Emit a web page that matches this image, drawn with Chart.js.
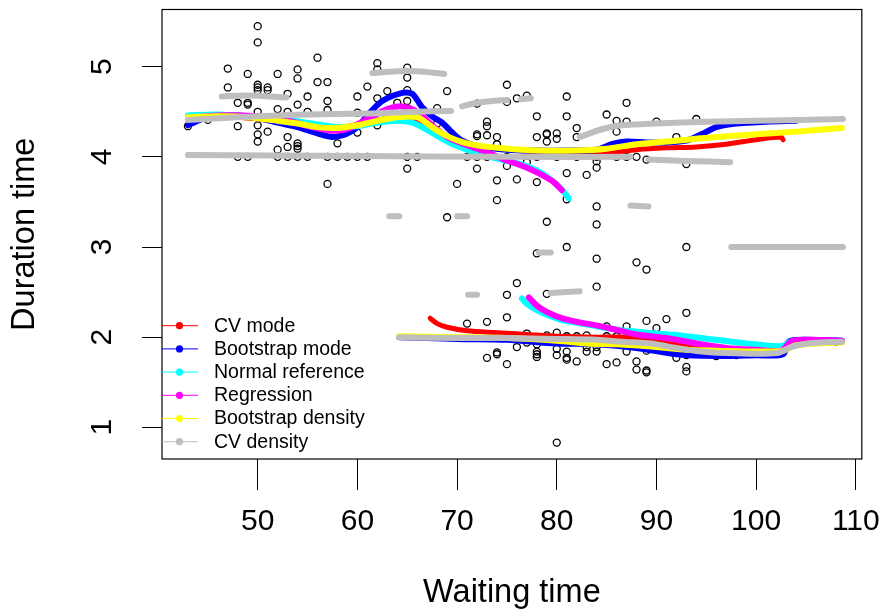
<!DOCTYPE html>
<html>
<head>
<meta charset="utf-8">
<script src="https://cdn.jsdelivr.net/npm/chart.js@4/dist/chart.umd.min.js"></script>
<style>
  html, body { margin: 0; padding: 0; background: #fff; }
  #wrap { width: 894px; height: 615px; position: relative; }
</style>
</head>
<body>
<div id="wrap"><canvas id="geyser"></canvas></div>
<script>
// === data ===
const tickX = [50, 60, 70, 80, 90, 100, 110];
const tickY = [1, 2, 3, 4, 5];

const waiting = [
  43, 45, 47, 47, 48, 48, 48, 49, 49, 49, 49,
  50, 50, 50, 50, 50, 50, 50, 50, 50, 51, 51, 51,
  52, 52, 52, 52, 53, 53, 53, 53, 53,
  54, 54, 54, 54, 54, 54, 54, 55, 55, 55, 56, 56,
  57, 57, 57, 57, 57, 58, 58, 59, 60, 60, 60, 60, 61, 61,
  62, 62, 62, 62, 63, 64, 65, 65, 65, 65, 65, 65, 66,
  68, 68, 69, 69, 70, 71, 72, 72, 72, 72, 72,
  73, 73, 73, 73, 74, 74, 74, 74, 75, 75, 75, 75, 76, 76, 77, 77,
  78, 78, 78, 78, 79, 79, 79, 79, 80, 80, 80, 81, 81, 81, 81,
  82, 82, 82, 83, 84, 84, 84, 84, 84, 85, 86, 86, 86, 87, 87, 87,
  88, 89, 90, 92, 93, 94,
  71, 73, 73, 74, 74, 75, 75, 75, 76, 76, 76, 77, 77,
  78, 78, 78, 78, 78, 78, 79, 79, 80, 80, 80, 80,
  81, 81, 81, 81, 81, 82, 82, 83, 83, 83, 84, 84, 84, 84,
  85, 85, 85, 86, 86, 87, 87, 88, 88, 88, 88, 89, 89, 89, 89, 89,
  90, 90, 91, 92, 93, 93, 93, 93, 93, 96, 98, 108
];
const duration = [
  4.34, 4.41, 4.98, 4.77, 4.60, 4.34, 4.00, 4.92, 4.60, 4.58, 4.00,
  5.45, 5.27, 4.80, 4.77, 4.74, 4.50, 4.35, 4.25, 4.17, 4.77, 4.74, 4.28,
  4.92, 4.53, 4.08, 4.00, 4.70, 4.50, 4.22, 4.11, 4.00,
  4.97, 4.87, 4.58, 4.15, 4.12, 4.09, 4.00, 4.67, 4.50, 4.00, 5.10, 4.83,
  4.83, 4.62, 4.52, 4.00, 3.70, 4.15, 4.00, 4.00, 4.67, 4.49, 4.27, 4.00, 4.78, 4.00,
  5.04, 4.97, 4.65, 4.35, 4.73, 4.60, 4.99, 4.88, 4.74, 4.62, 4.00, 3.87, 4.00,
  4.54, 4.37, 4.73, 3.33, 3.70, 4.00, 4.59, 4.25, 4.23, 4.00, 3.87,
  4.39, 4.34, 4.24, 4.00, 4.22, 4.14, 3.74, 3.52, 4.80, 4.61, 4.00, 3.90, 4.65, 3.75, 4.68, 3.94,
  4.45, 4.22, 4.00, 3.72, 4.26, 4.25, 4.17, 3.28, 4.26, 4.20, 4.00, 4.67, 4.45, 3.82, 3.53,
  4.32, 4.22, 4.00, 3.80, 4.00, 3.95, 3.88, 3.45, 3.25, 4.47, 4.40, 4.28, 4.00, 4.60, 4.39, 4.00,
  4.00, 3.97, 4.39, 4.22, 3.92, 4.42,
  2.15, 2.17, 1.77, 1.83, 1.81, 2.47, 2.22, 1.70, 2.60, 2.00, 1.89, 2.04, 1.94,
  2.93, 2.00, 1.92, 1.84, 1.81, 1.78, 2.48, 2.02, 2.05, 1.87, 1.80, 0.83,
  3.00, 2.01, 1.84, 1.77, 1.75, 2.01, 1.73, 2.02, 1.89, 1.84, 2.87, 2.56, 1.89, 1.84,
  2.12, 2.01, 1.70, 2.01, 1.72, 2.12, 1.84, 2.83, 1.90, 1.73, 1.64, 2.75, 2.18, 1.85, 1.63, 1.61,
  2.10, 1.95, 2.20, 1.77, 3.00, 2.27, 1.80, 1.67, 1.62, 1.79, 1.80, 1.95
];

// conditional mode curves, [waiting, duration] pairs, one array per piece
const cvModeUpper = [[43,4.42],[45,4.46],[48,4.44],[50,4.42],[53,4.37],[55,4.34],[57,4.32],[58,4.32],[60,4.36],[62,4.41],[64,4.44],[65.5,4.44],[67,4.36],[68.5,4.25],[70,4.18],[72,4.12],[75,4.08],[78,4.06],[82,4.05],[85,4.04],[88,4.08],[91,4.10],[94,4.11],[97,4.14],[100,4.19],[102.5,4.22],[102.7,4.19]];
const cvModeLower = [[67.3,2.21],[68,2.15],[69,2.11],[71,2.07],[74,2.05],[77,2.03],[80,2.01],[84,2.00],[87,2.00],[90,1.95],[93,1.90],[96,1.87],[100,1.85],[103,1.88],[105,1.93],[108.6,1.95]];

const bootModeUpper = [[43,4.35],[44,4.40],[45.5,4.46],[48,4.46],[50,4.43],[52,4.38],[54,4.33],[56,4.26],[57.5,4.22],[59,4.26],[60,4.33],[61,4.46],[62.5,4.62],[64.5,4.71],[65.5,4.70],[66,4.63],[66.5,4.55],[67.5,4.45],[68.5,4.38],[69.5,4.27],[70.5,4.18],[72,4.12],[75,4.08],[78,4.07],[81,4.07],[84,4.08],[85.5,4.14],[87,4.17],[89,4.16],[91,4.16],[93,4.18],[94.5,4.25],[96,4.33],[98,4.37],[101,4.39],[104,4.40]];
const bootModeLower = [[64.2,2.00],[70,1.98],[75,1.97],[80,1.93],[84,1.92],[88,1.88],[92,1.81],[96,1.79],[100,1.80],[102.7,1.81],[103.3,1.95],[105,1.97],[108.6,1.96]];

const normRefUpper = [[43,4.46],[46,4.47],[50,4.44],[53,4.41],[56,4.36],[58,4.33],[60,4.34],[62,4.38],[64,4.40],[65.5,4.38],[67,4.30],[68.5,4.20],[70,4.12],[72,4.04],[74,3.98],[76,3.93],[78,3.85],[79.5,3.74],[80.5,3.64],[81.2,3.54]];
const normRefLower = [[76.5,2.43],[77,2.37],[78,2.30],[79,2.25],[80.5,2.19],[82,2.16],[83.5,2.13],[85,2.10],[87,2.07],[90,2.04],[93,2.01],[96,1.97],[99,1.93],[102.5,1.90],[103.5,1.95],[105,1.96],[108.6,1.96]];

const regrUpper = [[43,4.43],[46,4.46],[50,4.45],[53,4.40],[55.5,4.33],[57.5,4.29],[59,4.31],[61,4.42],[63,4.53],[64.5,4.56],[66,4.50],[67.5,4.35],[69,4.22],[71,4.13],[73,4.05],[75,3.96],[77,3.88],[78.5,3.80],[79.7,3.72],[80.5,3.63]];
const regrLower = [[77.2,2.44],[78,2.35],[79,2.28],[80.5,2.21],[82,2.17],[84,2.13],[86,2.08],[88,2.03],[91,1.99],[94,1.93],[97,1.88],[100,1.86],[102.5,1.85],[103.5,1.95],[105,1.97],[108.6,1.96]];

const bootDensUpper = [[43,4.44],[46,4.45],[49,4.44],[52,4.40],[54,4.37],[56,4.33],[58,4.32],[60,4.35],[62,4.40],[64,4.44],[66,4.44],[67.5,4.33],[69,4.23],[71,4.15],[74,4.10],[78,4.07],[82,4.07],[85,4.09],[88,4.14],[92,4.18],[96,4.22],[100,4.25],[104,4.28],[108.6,4.32]];
const bootDensLower = [[64.2,2.01],[70,2.00],[75,1.99],[80,1.96],[83,1.93],[86,1.92],[90,1.89],[93,1.86],[96,1.85],[100,1.84],[102.7,1.85],[104,1.91],[106,1.93],[108.6,1.94]];

const cvDensPieces = [
  [[43,4.02],[60,4.01],[75,4.00],[87.4,4.00]],
  [[89.2,3.97],[93,3.955],[97.4,3.94]],
  [[82.3,4.22],[83.5,4.27],[85,4.32],[86.5,4.35],[90,4.37],[95,4.39],[100,4.40],[108.7,4.42]],
  [[43,4.41],[50,4.45],[55,4.47],[61,4.48],[66,4.50],[69.4,4.51]],
  [[46.4,4.67],[49,4.68],[52.9,4.66]],
  [[61.5,4.93],[64,4.95],[66,4.95],[68.7,4.92]],
  [[63.2,3.34],[64.2,3.34]],
  [[70.5,4.56],[72,4.60],[73.5,4.62],[75,4.63]],
  [[76.4,4.64],[77.4,4.65]],
  [[70,3.34],[71,3.34]],
  [[87.4,3.46],[89.2,3.45]],
  [[97.5,3.00],[108.7,3.00]],
  [[71.1,2.47],[72,2.47]],
  [[78.2,2.94],[79.4,2.94]],
  [[79.4,2.49],[81,2.50],[82.3,2.51]],
  [[64.2,2.00],[70,1.99],[75,1.99],[80,1.98],[84,1.97],[86.5,1.95],[89.5,1.93],[91.2,1.895],[94.5,1.84],[98,1.82],[102.2,1.825],[103.5,1.89],[105.2,1.93],[108.6,1.95]]
];

const legendLabels = ["CV mode", "Bootstrap mode", "Normal reference", "Regression", "Bootstrap density", "CV density"];
const legendColors = ["#FF0000", "#0000FF", "#00FFFF", "#FF00FF", "#FFFF00", "#BEBEBE"];

// === datasets ===
const toXY = (arr) => arr.map((p) => ({ x: p[0], y: p[1] }));
const curve = (arr, color, width) => ({
  data: toXY(arr),
  showLine: true,
  borderColor: color,
  backgroundColor: color,
  borderWidth: width,
  borderCapStyle: "round",
  borderJoinStyle: "round",
  pointRadius: 0,
  pointHoverRadius: 0,
  tension: 0.3,
});

const datasets = [
  {
    data: waiting.map((w, i) => ({ x: w, y: duration[i] })),
    pointRadius: 3.5,
    pointBorderWidth: 1.3,
    borderColor: "#000",
    backgroundColor: "rgba(0,0,0,0)",
    showLine: false,
  },
  curve(cvModeUpper, legendColors[0], 5),
  curve(cvModeLower, legendColors[0], 5),
  curve(bootModeUpper, legendColors[1], 6),
  curve(bootModeLower, legendColors[1], 6),
  curve(normRefUpper, legendColors[2], 6),
  curve(normRefLower, legendColors[2], 6),
  curve(regrUpper, legendColors[3], 6),
  curve(regrLower, legendColors[3], 6),
  curve(bootDensUpper, legendColors[4], 6),
  curve(bootDensLower, legendColors[4], 6),
  ...cvDensPieces.map((p) => curve(p, legendColors[5], 6)),
];
// later entries are painted over earlier ones, as in the original plot
datasets.forEach((d, i) => { d.order = datasets.length - i; });

const FONT = "'Liberation Sans', Arial, Helvetica, sans-serif";

// box, rotated y labels, legend inside plot
const extras = {
  id: "extras",
  afterDatasetsDraw(chart) {
    const { ctx, chartArea: a, scales } = chart;
    ctx.save();
    ctx.strokeStyle = "#000";
    ctx.lineWidth = 1.2;
    ctx.strokeRect(a.left, a.top, a.right - a.left, a.bottom - a.top);

    ctx.fillStyle = "#000";
    ctx.font = "30px " + FONT;
    ctx.textAlign = "center";
    ctx.textBaseline = "middle";
    tickY.forEach((v) => {
      const y = scales.y.getPixelForValue(v);
      ctx.save();
      ctx.translate(103, y);
      ctx.rotate(-Math.PI / 2);
      ctx.fillText(String(v), 0, 0);
      ctx.restore();
    });

    ctx.font = "19.5px " + FONT;
    ctx.textAlign = "left";
    legendLabels.forEach((lab, i) => {
      const y = 325.7 + i * 23.2;
      ctx.strokeStyle = legendColors[i];
      ctx.lineWidth = 1;
      ctx.beginPath();
      ctx.moveTo(a.left, y);
      ctx.lineTo(a.left + 36, y);
      ctx.stroke();
      ctx.fillStyle = legendColors[i];
      ctx.beginPath();
      ctx.arc(a.left + 17.5, y, 3.6, 0, Math.PI * 2);
      ctx.fill();
      ctx.fillStyle = "#000";
      ctx.fillText(lab, a.left + 52, y + 0.5);
    });
    ctx.restore();
  },
};

new Chart(document.getElementById("geyser"), {
  type: "scatter",
  data: { datasets },
  options: {
    responsive: true,
    maintainAspectRatio: false,
    animation: false,
    layout: { padding: { top: 9.5, right: 30, left: 0, bottom: 0 } },
    plugins: { legend: { display: false }, tooltip: { enabled: false } },
    scales: {
      x: {
        type: "linear",
        min: 40.4,
        max: 110.6,
        afterBuildTicks: (s) => { s.ticks = tickX.map((v) => ({ value: v })); },
        afterFit: (s) => { s.height = 156; },
        border: { display: false },
        grid: { drawOnChartArea: false, tickLength: 31, color: "#000", tickWidth: 1 },
        ticks: { font: { size: 30, family: FONT }, color: "#000", padding: 14, maxRotation: 0 },
        title: { display: true, text: "Waiting time", font: { size: 32.5, family: FONT }, color: "#000", padding: { top: 0, bottom: 2.5 } },
      },
      y: {
        type: "linear",
        min: 0.648,
        max: 5.635,
        afterBuildTicks: (s) => { s.ticks = tickY.map((v) => ({ value: v })); },
        afterFit: (s) => { s.width = 162; },
        border: { display: false },
        grid: { drawOnChartArea: false, tickLength: 20, color: "#000", tickWidth: 1 },
        ticks: { display: false },
        title: { display: true, text: "Duration time", font: { size: 32.5, family: FONT }, color: "#000", padding: { top: 5.5, bottom: 0 } },
      },
    },
  },
  plugins: [extras],
});
</script>
</body>
</html>
